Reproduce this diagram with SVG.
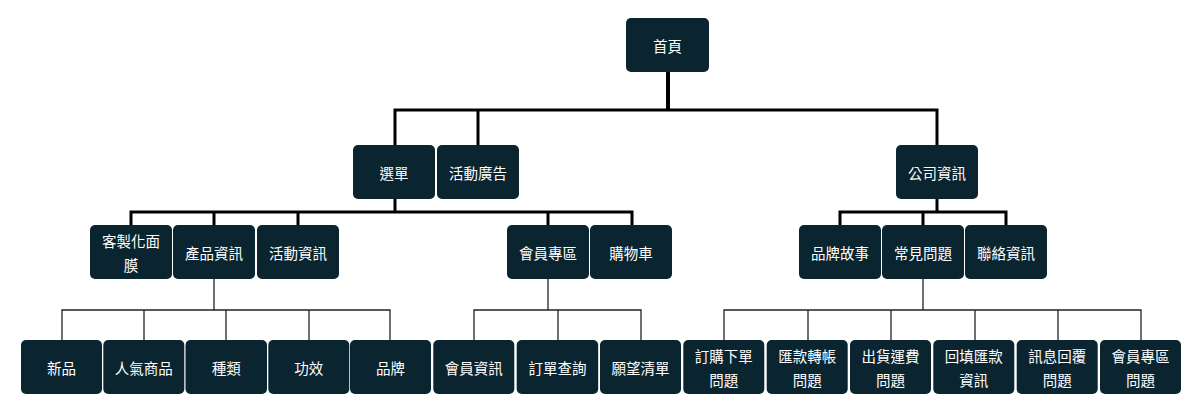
<svg xmlns="http://www.w3.org/2000/svg" width="1187" height="411" viewBox="0 0 1187 411">
<style>
.n rect{fill:#0b2530;}
.n text{fill:#ffffff;font-family:"Noto Sans CJK TC","Noto Sans CJK SC",sans-serif;font-size:14.5px;text-anchor:middle;dominant-baseline:central;}
.thick{fill:none;stroke:#000;stroke-width:3;stroke-linejoin:miter;}
.thin{fill:none;stroke:#222;stroke-width:1.3;}
</style>
<rect x="0" y="0" width="1187" height="411" fill="#fff"/>
<g id="connectors">
<path class="thick" d="M668,72 V110" style="stroke-width:4"/>
<path class="thick" d="M395,145 V110 H937 V145 M478,110 V145"/>
<path class="thick" d="M395,199 V212 M131,225 V212 H632 V225 M214,212 V225 M298,212 V225 M548,212 V225"/>
<path class="thick" d="M937,199 V212 M840,225 V212 H1006 V225 M923,212 V225"/>
<path class="thin" d="M214,279 V310 M62,340 V310 H390 V340 M144,310 V340 M226,310 V340 M309,310 V340"/>
<path class="thin" d="M548,279 V310 M474,340 V310 H641 V340 M558,310 V340"/>
<path class="thin" d="M923,279 V310 M724,340 V310 H1141 V340 M808,310 V340 M891,310 V340 M975,310 V340 M1058,310 V340"/>
</g>
<g id="n-home" class="n"><rect x="626" y="18" width="83" height="54" rx="5"/><text x="667.5" y="45">首頁</text></g>
<g id="n-menu" class="n"><rect x="353" y="145" width="82" height="54" rx="5"/><text x="394" y="172">選單</text></g>
<g id="n-ads" class="n"><rect x="437" y="145" width="82" height="54" rx="5"/><text x="478" y="172">活動廣告</text></g>
<g id="n-company" class="n"><rect x="896" y="145" width="82" height="54" rx="5"/><text x="937" y="172">公司資訊</text></g>
<g id="n-custom" class="n"><rect x="90" y="225" width="82" height="54" rx="5"/><text x="131" y="240">客製化面</text><text x="131" y="264">膜</text></g>
<g id="n-product" class="n"><rect x="173" y="225" width="82" height="54" rx="5"/><text x="214" y="252">產品資訊</text></g>
<g id="n-event" class="n"><rect x="257" y="225" width="82" height="54" rx="5"/><text x="298" y="252">活動資訊</text></g>
<g id="n-member" class="n"><rect x="507" y="225" width="82" height="54" rx="5"/><text x="548" y="252">會員專區</text></g>
<g id="n-cart" class="n"><rect x="590" y="225" width="82" height="54" rx="5"/><text x="631" y="252">購物車</text></g>
<g id="n-story" class="n"><rect x="799" y="225" width="82" height="54" rx="5"/><text x="840" y="252">品牌故事</text></g>
<g id="n-faq" class="n"><rect x="882" y="225" width="82" height="54" rx="5"/><text x="923" y="252">常見問題</text></g>
<g id="n-contact" class="n"><rect x="965" y="225" width="82" height="54" rx="5"/><text x="1006" y="252">聯絡資訊</text></g>
<g id="n-new" class="n"><rect x="21" y="340" width="81" height="54" rx="5"/><text x="61.5" y="367">新品</text></g>
<g id="n-popular" class="n"><rect x="103.3" y="340" width="81" height="54" rx="5"/><text x="143.8" y="367">人氣商品</text></g>
<g id="n-type" class="n"><rect x="185.5" y="340" width="81.5" height="54" rx="5"/><text x="226.2" y="367">種類</text></g>
<g id="n-effect" class="n"><rect x="268.3" y="340" width="81" height="54" rx="5"/><text x="308.8" y="367">功效</text></g>
<g id="n-brand" class="n"><rect x="350" y="340" width="81" height="54" rx="5"/><text x="390.5" y="367">品牌</text></g>
<g id="n-meminfo" class="n"><rect x="433.3" y="340" width="81" height="54" rx="5"/><text x="473.8" y="367">會員資訊</text></g>
<g id="n-order" class="n"><rect x="516.7" y="340" width="81.5" height="54" rx="5"/><text x="557.4" y="367">訂單查詢</text></g>
<g id="n-wish" class="n"><rect x="600" y="340" width="81" height="54" rx="5"/><text x="640.5" y="367">願望清單</text></g>
<g id="n-q1" class="n"><rect x="683.3" y="340" width="81" height="54" rx="5"/><text x="723.8" y="355">訂購下單</text><text x="723.8" y="379">問題</text></g>
<g id="n-q2" class="n"><rect x="766.7" y="340" width="81" height="54" rx="5"/><text x="807.2" y="355">匯款轉帳</text><text x="807.2" y="379">問題</text></g>
<g id="n-q3" class="n"><rect x="850" y="340" width="81" height="54" rx="5"/><text x="890.5" y="355">出貨運費</text><text x="890.5" y="379">問題</text></g>
<g id="n-q4" class="n"><rect x="933.3" y="340" width="81" height="54" rx="5"/><text x="973.8" y="355">回填匯款</text><text x="973.8" y="379">資訊</text></g>
<g id="n-q5" class="n"><rect x="1016.7" y="340" width="81" height="54" rx="5"/><text x="1057.2" y="355">訊息回覆</text><text x="1057.2" y="379">問題</text></g>
<g id="n-q6" class="n"><rect x="1100" y="340" width="81" height="54" rx="5"/><text x="1140.5" y="355">會員專區</text><text x="1140.5" y="379">問題</text></g>
</svg>
